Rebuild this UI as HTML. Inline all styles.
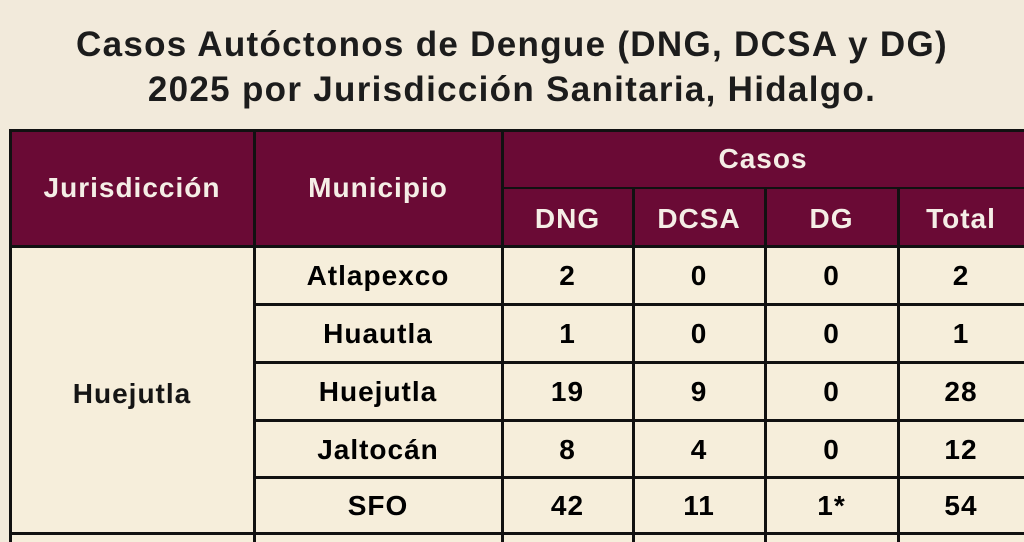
<!DOCTYPE html>
<html><head><meta charset="utf-8"><style>
body{margin:0;width:1024px;height:542px;overflow:hidden;background:#f2eadb;font-family:"Liberation Sans",sans-serif;position:relative}
.t{position:absolute;left:0;width:1024px;text-align:center;font-weight:bold;font-size:35px;letter-spacing:1.3px;color:#1c1c1c;line-height:40px}
.c{position:absolute;display:flex;align-items:center;justify-content:center;font-weight:bold;font-size:28px;letter-spacing:1px;box-sizing:border-box}
.h{background:#6a0a35;color:#f5eee6}
.b{background:#f6eedb;color:#151515}
.l{position:absolute;background:#111}
</style></head><body>
<div class="t" style="top:25px">Casos Autóctonos de Dengue (DNG, DCSA y DG)</div>
<div class="t" style="top:70px">2025 por Jurisdicción Sanitaria, Hidalgo.</div>

<div class="c h" style="left:10px;top:130px;width:244px;height:116px">Jurisdicción</div>
<div class="c h" style="left:254px;top:130px;width:248px;height:116px">Municipio</div>
<div class="c h" style="left:502px;top:130px;width:522px;height:58px">Casos</div>
<div class="c h" style="left:502px;top:188px;width:131px;height:62px">DNG</div>
<div class="c h" style="left:633px;top:188px;width:132px;height:62px">DCSA</div>
<div class="c h" style="left:765px;top:188px;width:133px;height:62px">DG</div>
<div class="c h" style="left:898px;top:188px;width:126px;height:62px">Total</div>

<div class="c b" style="left:10px;top:246px;width:244px;height:296px">Huejutla</div>
<div class="c b" style="left:254px;top:246px;width:770px;height:296px"></div>

<div class="c" style="left:254px;top:246px;width:248px;height:60px">Atlapexco</div>
<div class="c" style="left:502px;top:246px;width:131px;height:60px">2</div>
<div class="c" style="left:633px;top:246px;width:132px;height:60px">0</div>
<div class="c" style="left:765px;top:246px;width:133px;height:60px">0</div>
<div class="c" style="left:898px;top:246px;width:126px;height:60px">2</div>

<div class="c" style="left:254px;top:304px;width:248px;height:60px">Huautla</div>
<div class="c" style="left:502px;top:304px;width:131px;height:60px">1</div>
<div class="c" style="left:633px;top:304px;width:132px;height:60px">0</div>
<div class="c" style="left:765px;top:304px;width:133px;height:60px">0</div>
<div class="c" style="left:898px;top:304px;width:126px;height:60px">1</div>

<div class="c" style="left:254px;top:362px;width:248px;height:60px">Huejutla</div>
<div class="c" style="left:502px;top:362px;width:131px;height:60px">19</div>
<div class="c" style="left:633px;top:362px;width:132px;height:60px">9</div>
<div class="c" style="left:765px;top:362px;width:133px;height:60px">0</div>
<div class="c" style="left:898px;top:362px;width:126px;height:60px">28</div>

<div class="c" style="left:254px;top:420px;width:248px;height:59px">Jaltocán</div>
<div class="c" style="left:502px;top:420px;width:131px;height:59px">8</div>
<div class="c" style="left:633px;top:420px;width:132px;height:59px">4</div>
<div class="c" style="left:765px;top:420px;width:133px;height:59px">0</div>
<div class="c" style="left:898px;top:420px;width:126px;height:59px">12</div>

<div class="c" style="left:254px;top:477px;width:248px;height:58px">SFO</div>
<div class="c" style="left:502px;top:477px;width:131px;height:58px">42</div>
<div class="c" style="left:633px;top:477px;width:132px;height:58px">11</div>
<div class="c" style="left:765px;top:477px;width:133px;height:58px">1*</div>
<div class="c" style="left:898px;top:477px;width:126px;height:58px">54</div>

<div class="l" style="left:9px;top:129px;width:1015px;height:3px"></div>
<div class="l" style="left:502px;top:187px;width:522px;height:2px"></div>
<div class="l" style="left:9px;top:245px;width:1015px;height:3px"></div>
<div class="l" style="left:254px;top:303px;width:770px;height:3px"></div>
<div class="l" style="left:254px;top:361px;width:770px;height:3px"></div>
<div class="l" style="left:254px;top:419px;width:770px;height:3px"></div>
<div class="l" style="left:254px;top:476px;width:770px;height:3px"></div>
<div class="l" style="left:9px;top:532px;width:1015px;height:3px"></div>
<div class="l" style="left:9px;top:129px;width:3px;height:413px"></div>
<div class="l" style="left:253px;top:129px;width:3px;height:413px"></div>
<div class="l" style="left:501px;top:129px;width:3px;height:413px"></div>
<div class="l" style="left:632px;top:187px;width:3px;height:355px"></div>
<div class="l" style="left:764px;top:187px;width:3px;height:355px"></div>
<div class="l" style="left:897px;top:187px;width:3px;height:355px"></div>
</body></html>
